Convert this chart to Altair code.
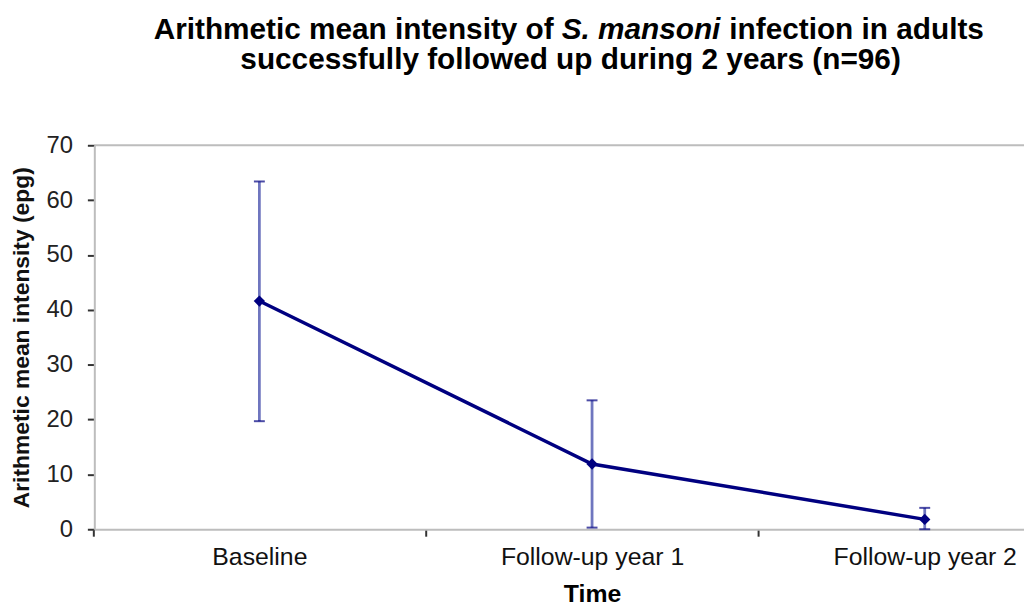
import altair as alt
import pandas as pd

# ---- data ----
CATEGORIES = ["Baseline", "Follow-up year 1", "Follow-up year 2"]
MEAN = [41.6, 11.9, 1.8]
LOWER = [19.7, 0.3, 0.0]
UPPER = [63.4, 23.5, 3.9]
Y_TICKS = [0, 10, 20, 30, 40, 50, 60, 70]

TITLE_1A = "Arithmetic mean intensity of"
TITLE_1B = "S. mansoni"
TITLE_1C = "infection in adults"
TITLE_2 = "successfully followed up during 2 years (n=96)"
Y_TITLE = "Arithmetic mean intensity (epg)"
X_TITLE = "Time"

df = pd.DataFrame({"cat": CATEGORIES, "mean": MEAN, "lower": LOWER, "upper": UPPER})

W, H = 937, 387
FONT = "Liberation Sans"
NAVY = "#000080"

xscale = alt.Scale(type="band", domain=CATEGORIES, range=[-1.3, 1004.6],
                   paddingInner=0, paddingOuter=0)
xaxis = alt.Axis(title=X_TITLE, tickBand="extent", labelAngle=0,
                 labelFontSize=25, labelColor="#111111", labelPadding=9,
                 labelLimit=0, labelOverlap=False,
                 tickSize=7, tickWidth=2, tickColor="#333333",
                 domainColor="#bdbdbd", domainWidth=2,
                 titleFontSize=25, titleFontWeight="bold", titleColor="#000000",
                 titleBaseline="alphabetic", titleY=73)
yscale = alt.Scale(domain=[0, 70], nice=False, zero=True)
yaxis = alt.Axis(title=Y_TITLE, values=Y_TICKS, labelFontSize=24,
                 labelColor="#222222", labelPadding=15,
                 tickSize=7, tickWidth=2, tickColor="#333333",
                 domainColor="#bdbdbd", domainWidth=2, grid=False,
                 titleFontSize=23, titleFontWeight="bold", titleColor="#111111",
                 titleAngle=270, titleBaseline="middle", titleAlign="center",
                 titleX=-73, titleY=H / 2)

X = alt.X("cat:N", sort=CATEGORIES, scale=xscale, axis=xaxis)

def Y(field):
    return alt.Y(f"{field}:Q", scale=yscale, axis=yaxis)

base = alt.Chart(df)

err = base.mark_rule(color="#6f76bf", strokeWidth=2.8).encode(
    x=X, y=Y("lower"), y2="upper:Q")
line = base.mark_line(color=NAVY, strokeWidth=3.5).encode(x=X, y=Y("mean"))
pts = base.mark_point(shape="diamond", filled=True, size=130, color=NAVY,
                      opacity=1).encode(x=X, y=Y("mean"))
cap_hi = base.mark_tick(color=NAVY, thickness=2, size=11).encode(x=X, y=Y("upper"))
cap_lo = base.mark_tick(color=NAVY, thickness=2, size=11).encode(x=X, y=Y("lower"))

one = pd.DataFrame({"k": [0]})
top_border = alt.Chart(one).mark_rule(color="#bdbdbd", strokeWidth=2).encode(
    x=alt.value(0), x2=alt.value(W), y=alt.value(0))

def title_text(txt, px, py, align, italic=False):
    return alt.Chart(pd.DataFrame({"t": [txt]})).mark_text(
        font=FONT, fontSize=30, fontWeight="bold",
        fontStyle="italic" if italic else "normal",
        align=align, baseline="alphabetic", color="#000000"
    ).encode(text="t:N", x=alt.value(px - 95), y=alt.value(py - 144))

t1a = title_text(TITLE_1A, 558, 37, "right")
t1b = title_text(TITLE_1B, 566, 37, "left", italic=True)
t1c = title_text(TITLE_1C, 735, 37, "left")
t2 = title_text(TITLE_2, 575, 67.5, "center")

chart = alt.layer(top_border, err, line, pts, cap_hi, cap_lo, t1a, t1b, t1c, t2).properties(
    width=W, height=H,
    autosize=alt.AutoSizeParams(type="none"),
    padding={"left": 87, "top": 136, "right": 0, "bottom": 75},
).configure(font=FONT).configure_view(stroke="transparent")

chart.save("out.html", embed_options={"renderer": "svg", "actions": False})
